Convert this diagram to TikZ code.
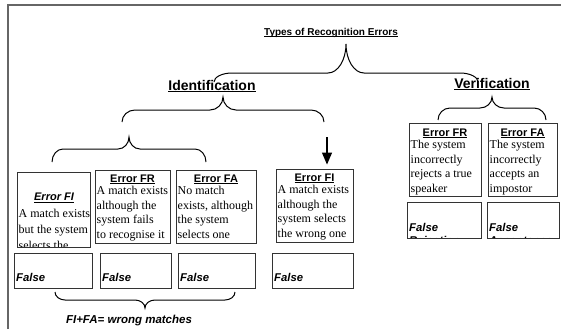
\documentclass[tikz,border=0pt]{standalone}
\usepackage{fontspec}
\setmainfont{Liberation Serif}
\setsansfont{Liberation Sans}
\usetikzlibrary{arrows.meta,fit}
\newcommand\myul[2][0.9pt]{\vtop{\hbox{\raisebox{0pt}[\height][0pt]{#2}}\kern1.2pt\hrule height #1}}
\newcommand\bodylines[2][14.5]{\parbox[t]{110pt}{\fontsize{12}{#1}\selectfont\raggedright #2}}
\newcommand\bracepath[6]{%
  \draw[bracest] (#2,#4) .. controls (#2,{#4+(#5-#4)*0.55}) and ({#2+#1*0.45},#5) .. ({#2+#1},#5)
   -- ({(#2+#3)/2-#1},#5) .. controls ({(#2+#3)/2-#1*0.45},#5) and ({(#2+#3)/2},{#5+(#6-#5)*0.45}) .. ({(#2+#3)/2},#6)
   .. controls ({(#2+#3)/2},{#5+(#6-#5)*0.45}) and ({(#2+#3)/2+#1*0.45},#5) .. ({(#2+#3)/2+#1},#5)
   -- ({#3-#1},#5) .. controls ({#3-#1*0.45},#5) and (#3,{#4+(#5-#4)*0.55}) .. (#3,#4);}
\tikzset{
  frame/.style={draw=black!60, line width=1.4pt},
  boxst/.style={draw=black!80, line width=0.9pt, inner sep=0pt},
  bodytxt/.style={inner sep=0pt, anchor=base west},
  headtxt/.style={font=\sffamily\bfseries\fontsize{11}{13}\selectfont, inner sep=0pt, anchor=base},
  headitxt/.style={font=\sffamily\bfseries\itshape\fontsize{11}{13}\selectfont, inner sep=0pt, anchor=base},
  falsetxt/.style={font=\sffamily\bfseries\itshape\fontsize{11.3}{13.5}\selectfont, inner sep=0pt, anchor=base west},
  titletxt/.style={font=\sffamily\bfseries\fontsize{10}{12}\selectfont, inner sep=0pt, anchor=base},
  sectxt/.style={font=\sffamily\bfseries\fontsize{14}{16}\selectfont, inner sep=0pt, anchor=base},
  bracest/.style={draw=black, line width=1pt},
  arrowst/.style={draw=black, line width=1.2pt, -{Triangle[width=10pt,length=12pt]}, shorten >=4pt},
}
\begin{document}
\begin{tikzpicture}[x=1pt,y=-1pt]
\useasboundingbox (0,0) rectangle (561,329);
\draw[frame] (8,329) -- (8,5) -- (561,5);

% titles
\node[titletxt] (title) at (331,35) {\myul{Types of Recognition Errors}};
\node[sectxt] (ident) at (212,90) {\myul[1.1pt]{Identification}};
\node[sectxt] (verif) at (492,88) {\myul[1.1pt]{Verification}};

% braces
\bracepath{18}{214}{478}{82}{73}{44}
\bracepath{13}{122}{324}{122}{110}{97}
\bracepath{11}{52}{206}{162}{149}{137}
\bracepath{12}{438}{546}{120}{108}{97}
\bracepath{10}{55}{235}{292}{300}{308}

% identification boxes
\node[boxst, fit={(17,172)(90,247)}] (b1) {};
\begin{scope}
\clip (17,172) rectangle (90,246.5);
\node[headitxt] (b1h) at (54,200.5) {\myul{Error FI}};
\node[bodytxt] (b1t) at (18.5,217) {\bodylines[16]{A match exists\\but the system\\selects the}};
\end{scope}

\node[boxst, fit={(95,170)(170,243)}] (b2) {};
\node[headtxt] (b2h) at (132.5,182) {\myul{Error FR}};
\node[bodytxt] (b2t) at (96.5,194.5) {\bodylines{A match exists\\although the\\system fails\\to recognise it}};

\node[boxst, fit={(176,170)(256,243)}] (b3) {};
\node[headtxt] (b3h) at (216,182) {\myul{Error FA}};
\node[bodytxt] (b3t) at (177.5,194.5) {\bodylines{No match\\exists, although\\the system\\selects one}};

\node[boxst, fit={(276,169)(353,242)}] (b4) {};
\node[headtxt] (b4h) at (314.5,181) {\myul{Error FI}};
\node[bodytxt] (b4t) at (277.5,193.5) {\bodylines{A match exists\\although the\\system selects\\the wrong one}};

\coordinate (arrS) at (327,137);
\draw[arrowst] (arrS) -- (arrS |- b4.north);

% identification false boxes
\node[boxst, fit={(14,253)(92,288)}] (f1) {};
\node[falsetxt] (f1t) at (16,281) {False};
\node[boxst, fit={(100,253)(171,288)}] (f2) {};
\node[falsetxt] (f2t) at (102,281) {False};
\node[boxst, fit={(178,253)(255,288)}] (f3) {};
\node[falsetxt] (f3t) at (180,281) {False};
\node[boxst, fit={(272,253)(353,288)}] (f4) {};
\node[falsetxt] (f4t) at (274,281) {False};

\node[falsetxt, font=\sffamily\bfseries\itshape\fontsize{11.5}{13}\selectfont, anchor=base] (wm) at (129,323) {FI+FA= wrong matches};

% verification boxes
\node[boxst, fit={(409,123)(481,196)}] (v1) {};
\node[headtxt] (v1h) at (445,136) {\myul{Error FR}};
\node[bodytxt] (v1t) at (410.5,148.5) {\bodylines{The system\\incorrectly\\rejects a true\\speaker}};

\node[boxst, fit={(488,123)(557,196)}] (v2) {};
\node[headtxt] (v2h) at (522.5,136) {\myul{Error FA}};
\node[bodytxt] (v2t) at (489.5,148.5) {\bodylines{The system\\incorrectly\\accepts an\\impostor}};

\node[boxst, fit={(407,202)(481,238)}] (vf1) {};
\begin{scope}
\clip (407,202) rectangle (481,237.6);
\node[falsetxt] (vf1t) at (409,231) {False};
\node[falsetxt] (vf1u) at (409,244.5) {Rejection};
\end{scope}
\node[boxst, fit={(487,202)(559,238)}] (vf2) {};
\begin{scope}
\clip (487,202) rectangle (559,237.6);
\node[falsetxt] (vf2t) at (489,231) {False};
\node[falsetxt] (vf2u) at (489,244.5) {Acceptance};
\end{scope}
\end{tikzpicture}
\end{document}
